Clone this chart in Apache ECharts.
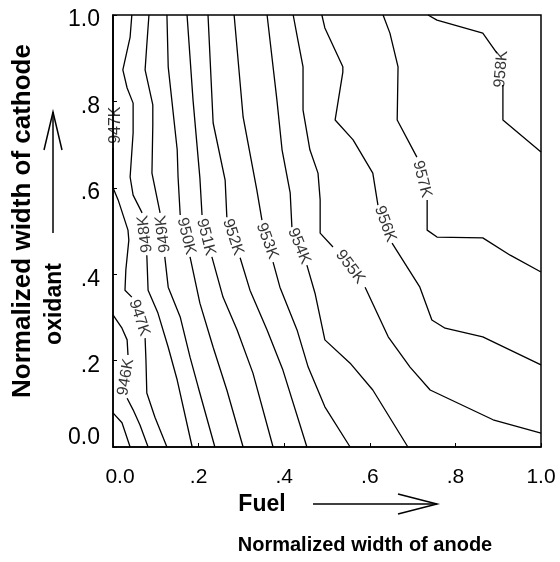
<!DOCTYPE html>
<html><head><meta charset="utf-8">
<script src="https://cdn.jsdelivr.net/npm/echarts@6/dist/echarts.min.js"></script>
<style>html,body{margin:0;padding:0;background:#fff}#c{width:560px;height:562px}</style>
</head><body><div id="c"></div>
<script>
// Tick labels
const xTickLabels = ['0.0', '.2', '.4', '.6', '.8', '1.0'];
const yTickLabels = ['0.0', '.2', '.4', '.6', '.8', '1.0'];

// Contour polylines [x, y] in data units; null = gap where the label sits
const c945 = [[0, 0.079], [0.021, 0.056], [0.040, 0]];
const c946 = [[0, 0.306], [0.021, 0.275], [0.033, 0.248], [0.035, 0.213], null,
  [0.033, 0.113], [0.047, 0.086], [0.063, 0.051], [0.082, 0]];
const c947 = [[0, 1], [0, 0.799], null,
  [0, 0.692], [0, 0.600], [0.012, 0.572], [0.035, 0.502], [0.037, 0.479], [0.030, 0.410], [0.028, 0.363], [0.044, 0.347], null,
  [0.075, 0.252], [0.077, 0.201], [0.079, 0.125], [0.098, 0.069], [0.126, 0]];
const c948 = [[0.044, 1], [0.040, 0.949], [0.023, 0.873], [0.033, 0.831], [0.047, 0.796], [0.047, 0.727], [0.040, 0.625], [0.047, 0.583], [0.068, 0.542], null,
  [0.079, 0.444], [0.082, 0.363], [0.105, 0.310], [0.129, 0.231], [0.150, 0.155], [0.185, 0]];
const c949 = [[0.084, 1], [0.079, 0.931], [0.075, 0.873], [0.093, 0.792], [0.093, 0.745], [0.091, 0.634], [0.110, 0.542], null,
  [0.121, 0.440], [0.129, 0.370], [0.157, 0.301], [0.180, 0.208], [0.199, 0.139], [0.238, 0]];
const c950 = [[0.126, 1], [0.129, 0.880], [0.150, 0.688], [0.152, 0.625], [0.157, 0.537], null,
  [0.180, 0.440], [0.203, 0.333], [0.234, 0.231], [0.266, 0.132], [0.304, 0]];
const c951 = [[0.173, 1], [0.187, 0.803], [0.203, 0.623], [0.208, 0.537], null,
  [0.231, 0.440], [0.257, 0.347], [0.290, 0.271], [0.327, 0.171], [0.374, 0]];
const c952 = [[0.222, 1], [0.234, 0.750], [0.262, 0.618], [0.266, 0.532], null,
  [0.297, 0.438], [0.320, 0.363], [0.360, 0.271], [0.397, 0.178], [0.453, 0]];
const c953 = [[0.283, 1], [0.304, 0.764], [0.336, 0.595], [0.348, 0.525], null,
  [0.374, 0.428], [0.390, 0.370], [0.430, 0.271], [0.456, 0.185], [0.495, 0.093], [0.554, 0]];
const c954 = [[0.360, 1], [0.383, 0.803], [0.395, 0.688], [0.414, 0.588], [0.418, 0.509], null,
  [0.453, 0.421], [0.472, 0.356], [0.495, 0.248], [0.554, 0.194], [0.607, 0.132], [0.689, 0]];
const c955 = [[0.421, 1], [0.432, 0.942], [0.444, 0.880], [0.444, 0.780], [0.460, 0.688], [0.479, 0.634], [0.484, 0.572], [0.484, 0.495], [0.514, 0.463], null,
  [0.589, 0.370], [0.643, 0.255], [0.694, 0.185], [0.741, 0.132], [0.888, 0.063], [1.0, 0.032]];
const c956 = [[0.488, 1], [0.495, 0.970], [0.537, 0.880], [0.537, 0.868], [0.519, 0.757], [0.561, 0.711], [0.607, 0.634], [0.619, 0.560], null,
  [0.652, 0.472], [0.717, 0.370], [0.745, 0.294], [0.776, 0.275], [0.864, 0.255], [1.0, 0.190]];
const c957 = [[0.631, 1], [0.647, 0.958], [0.666, 0.880], [0.664, 0.757], [0.710, 0.671], null,
  [0.734, 0.572], [0.734, 0.502], [0.757, 0.486], [0.864, 0.484], [0.928, 0.444], [1.0, 0.405]];
const c958 = [[0.736, 1], [0.757, 0.988], [0.864, 0.958], [0.897, 0.912], null,
  [0.911, 0.838], [0.911, 0.757], [1.0, 0.683]];
const contours = [c945, c946, c947, c948, c949, c950, c951, c952, c953, c954, c955, c956, c957, c958];

// Contour labels
const labelNames  = ['946K', '947K', '947K', '948K', '949K', '950K', '951K', '952K', '953K', '954K', '955K', '956K', '957K', '958K'];
const labelX      = [0.030, 0.007, 0.061, 0.075, 0.117, 0.171, 0.217, 0.280, 0.360, 0.435, 0.554, 0.636, 0.722, 0.907];
const labelY      = [0.162, 0.745, 0.299, 0.493, 0.493, 0.488, 0.486, 0.486, 0.477, 0.465, 0.417, 0.516, 0.620, 0.875];
const labelRotate = [80, 90, -72, 97, 97, -76, -76, -72, -70, -68, -53, -70, -76, 85];

const FONT = 'Liberation Sans, Arial, Helvetica, sans-serif';
const series = [];
contours.forEach(function (c) {
  let seg = [];
  c.forEach(function (p) {
    if (p === null) { if (seg.length) series.push(seg); seg = []; }
    else seg.push(p);
  });
  if (seg.length) series.push(seg);
});
const allSeries = series.map(function (seg) {
  return {
    type: 'line', data: seg, showSymbol: false, symbol: 'none', smooth: false,
    lineStyle: { color: '#000', width: 1.3 }, silent: true, animation: false, clip: false
  };
});
allSeries.push({
  type: 'scatter', symbolSize: 1, itemStyle: { color: 'rgba(0,0,0,0)' }, silent: true, animation: false,
  data: labelNames.map(function (n, i) {
    return { name: n, value: [labelX[i], labelY[i]], label: { rotate: labelRotate[i] } };
  }),
  label: { show: true, position: 'inside', formatter: '{b}', color: '#000', fontSize: 16, fontFamily: FONT }
});

const xRich = {
  n: { fontSize: 21, fontFamily: FONT, color: '#000' },
  s: { fontSize: 21, fontFamily: FONT, color: '#000', padding: [0, 0, 0, 14] }
};
const yRich = {
  d: { fontSize: 23, fontFamily: FONT, color: '#000', padding: [10, 0, 0, 0] },
  u: { fontSize: 23, fontFamily: FONT, color: '#000', padding: [0, 0, 18, 0] }
};

const chart = echarts.init(document.getElementById('c'), null, { renderer: 'canvas' });
chart.setOption({
  animation: false,
  backgroundColor: '#fff',
  grid: { left: 113, right: 19, top: 15, bottom: 115, show: true, borderColor: '#000', borderWidth: 1.5, backgroundColor: 'transparent' },
  xAxis: {
    type: 'value', min: 0, max: 1, interval: 0.2,
    axisLine: { show: true, lineStyle: { color: '#000', width: 1.5 } },
    axisTick: { show: true, inside: true, length: 4, lineStyle: { color: '#000' } },
    axisLabel: {
      formatter: function (v) { const i = Math.round(v * 5); return (i === 0 ? '{s|' : '{n|') + xTickLabels[i] + '}'; },
      rich: xRich, fontSize: 21, color: '#000', margin: 20, fontFamily: FONT
    },
    splitLine: { show: false }
  },
  yAxis: {
    type: 'value', min: 0, max: 1, interval: 0.2,
    axisLine: { show: true, lineStyle: { color: '#000', width: 1.5 } },
    axisTick: { show: true, inside: true, length: 4, lineStyle: { color: '#000' } },
    axisLabel: {
      formatter: function (v) { const i = Math.round(v * 5); return (i === 0 ? '{u|' : '{d|') + yTickLabels[i] + '}'; },
      rich: yRich, fontSize: 23, color: '#000', margin: 13, fontFamily: FONT
    },
    splitLine: { show: false }
  },
  graphic: [
    { type: 'text', x: 23, y: 221, rotation: Math.PI / 2,
      style: { text: 'Normalized width of cathode', font: 'bold 26px ' + FONT, fill: '#000', textAlign: 'center', textVerticalAlign: 'middle' } },
    { type: 'text', x: 55, y: 304, rotation: Math.PI / 2,
      style: { text: 'oxidant', font: 'bold 23px ' + FONT, fill: '#000', textAlign: 'center', textVerticalAlign: 'middle' } },
    { type: 'line', shape: { x1: 53, y1: 233, x2: 53, y2: 112 }, style: { stroke: '#000', lineWidth: 1.5 } },
    { type: 'polyline', shape: { points: [[44, 150], [53, 112], [62, 150]] }, style: { stroke: '#000', lineWidth: 1.5, fill: null } },
    { type: 'text', x: 262, y: 505,
      style: { text: 'Fuel', font: 'bold 23px ' + FONT, fill: '#000', textAlign: 'center', textVerticalAlign: 'middle' } },
    { type: 'line', shape: { x1: 313, y1: 504, x2: 437, y2: 504 }, style: { stroke: '#000', lineWidth: 1.5 } },
    { type: 'polyline', shape: { points: [[398, 494], [437, 504], [398, 514]] }, style: { stroke: '#000', lineWidth: 1.5, fill: null } },
    { type: 'text', x: 365, y: 545,
      style: { text: 'Normalized width of anode', font: 'bold 20px ' + FONT, fill: '#000', textAlign: 'center', textVerticalAlign: 'middle' } }
  ],
  series: allSeries
});
</script>
</body></html>
